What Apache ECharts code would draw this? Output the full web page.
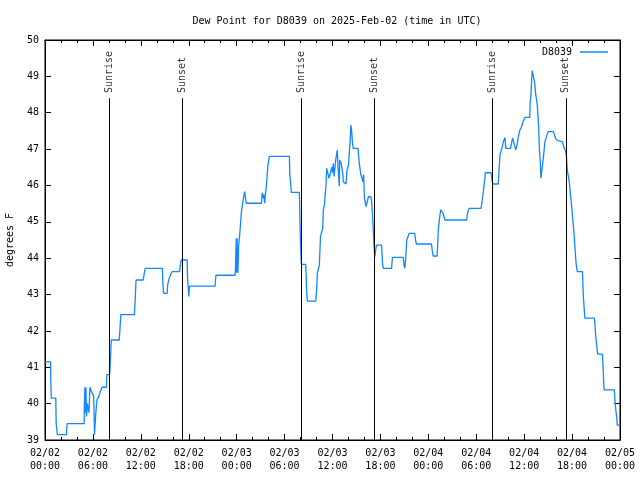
<!DOCTYPE html>
<html>
<head>
<meta charset="utf-8">
<script src="https://cdn.jsdelivr.net/npm/echarts@6/dist/echarts.min.js"></script>
<style>html,body{margin:0;padding:0;background:#fff}#c{width:640px;height:480px}</style>
</head>
<body>
<div id="c"></div>
<script>
// Hours since 2025-02-02 00:00 UTC
const hours = [
0,0.7,0.72,0.8,1.35,1.4,1.55,2.7,2.73,2.8,4.9,4.93,5.0,5.05,5.12,5.2,5.3,5.5,5.63,5.8,6.1,6.2,6.35,6.5,6.75,6.95,7.15,7.7,7.75,8.1,8.2,8.3,9.3,9.4,9.5,11.2,11.3,11.4,12.3,12.4,12.55,14.7,14.75,14.85,15.3,15.35,15.55,15.7,15.9,16.85,16.95,17.05,17.8,17.85,17.95,18.0,18.1,21.3,21.4,23.8,23.85,23.95,24.0,24.05,24.15,24.25,24.4,24.6,24.85,25.0,25.05,25.2,27.1,27.2,27.3,27.4,27.5,27.6,27.75,27.9,28.1,30.6,30.65,30.75,30.85,31.85,31.9,32.0,32.1,32.64,32.7,32.76,32.85,33.9,34.0,34.1,34.35,34.5,34.77,34.85,35.0,35.2,35.27,35.4,35.55,35.7,35.9,36.0,36.1,36.2,36.4,36.6,36.7,36.85,36.9,37.1,37.3,37.35,37.5,37.7,37.8,38.0,38.1,38.2,38.3,38.4,38.5,38.6,39.2,39.35,39.55,39.7,39.8,39.9,40.0,40.2,40.5,40.8,40.9,41.0,41.1,41.2,41.3,41.5,42.15,42.25,42.36,43.4,43.5,44.87,44.95,45.05,45.15,45.3,45.6,46.3,46.4,46.5,48.4,48.5,48.6,49.1,49.25,49.4,49.55,49.65,49.85,50.08,52.8,52.9,53.1,54.6,54.75,54.9,55.05,55.15,55.85,55.95,56.0,56.1,56.75,56.85,56.97,57.2,57.4,57.5,57.6,57.7,58.3,58.45,58.55,58.7,58.95,59.1,59.25,59.47,59.65,59.85,60.1,60.7,60.75,60.85,60.9,61.0,61.2,61.3,61.45,61.65,61.8,61.9,62.0,62.1,62.2,62.4,62.6,62.8,63.0,63.65,63.85,64.05,64.3,64.8,64.95,65.2,65.3,65.4,65.65,65.8,65.95,66.15,66.25,66.35,66.5,66.65,67.3,67.4,67.6,68.8,68.95,69.2,69.8,69.9,70.0,71.3,71.4,71.6,71.65,72
];
const dewPointF = [
41.15,41.15,40.65,40.15,40.15,39.45,39.15,39.15,39.35,39.45,39.45,40.0,40.45,39.75,40.45,39.65,40.0,39.75,40.45,40.35,40.2,39.15,39.7,40.1,40.2,40.35,40.45,40.45,40.8,40.8,41.25,41.75,41.75,42.1,42.45,42.45,42.9,43.4,43.4,43.55,43.72,43.72,43.35,43.03,43.03,43.25,43.45,43.5,43.63,43.63,43.8,43.95,43.95,43.45,43.15,42.95,43.23,43.23,43.53,43.53,43.73,44.55,43.6,44.55,43.6,44.35,44.7,45.28,45.65,45.83,45.8,45.51,45.51,45.8,45.65,45.75,45.51,45.75,46.06,46.54,46.8,46.8,46.33,46.06,45.81,45.81,45.32,44.32,43.83,43.83,43.58,43.08,42.82,42.82,43.08,43.58,43.81,44.6,44.82,45.33,45.48,46.06,46.47,46.35,46.2,46.3,46.5,46.35,46.61,46.25,46.7,46.97,46.5,45.98,46.7,46.6,46.3,46.1,46.15,46.04,46.4,46.55,46.9,47.16,47.66,47.5,47.16,47.02,47.02,46.61,46.3,46.2,46.1,46.3,45.65,45.42,45.69,45.69,45.55,45.23,44.8,44.32,44.04,44.36,44.36,43.9,43.72,43.72,44.02,44.02,43.81,43.72,43.95,44.5,44.68,44.68,44.5,44.39,44.39,44.2,44.06,44.06,44.78,45.1,45.33,45.37,45.23,45.05,45.05,45.23,45.37,45.37,45.6,45.85,46.15,46.35,46.35,46.2,46.1,46.04,46.04,46.42,46.84,47.02,47.2,47.25,47.32,47.02,47.02,47.2,47.3,47.25,46.98,47.1,47.32,47.53,47.6,47.75,47.87,47.87,48.26,48.5,48.75,49.16,49.16,48.85,48.5,48.2,47.66,47.02,46.7,46.2,46.4,46.75,47.2,47.35,47.48,47.48,47.35,47.25,47.2,47.2,47.07,46.93,46.79,46.42,46.1,45.74,45.42,44.91,44.68,44.32,43.86,43.63,43.63,42.99,42.35,42.35,41.89,41.36,41.36,40.9,40.38,40.38,39.97,39.6,39.41,39.41
];
const sunriseHours = [8.1, 32.05, 56.0];
const sunsetHours = [17.19, 41.2, 65.22];
const xTickLabels = ['02/02\n00:00','02/02\n06:00','02/02\n12:00','02/02\n18:00','02/03\n00:00','02/03\n06:00','02/03\n12:00','02/03\n18:00','02/04\n00:00','02/04\n06:00','02/04\n12:00','02/04\n18:00','02/05\n00:00'];
const seriesName = 'D8039';
const titleText = 'Dew Point for D8039 on 2025-Feb-02 (time in UTC)';
const yName = 'degrees F';

const FONT = 'DejaVu Sans Mono';
const yMin = 39, yMax = 50;
const sunLineTop = 48.4, sunLabelAnchor = 48.54;

const lineData = hours.map((h, i) => [h, dewPointF[i]]);
const sunEvents = [];
sunriseHours.forEach(h => sunEvents.push([h, 'Sunrise']));
sunsetHours.forEach(h => sunEvents.push([h, 'Sunset']));
sunEvents.sort((a, b) => a[0] - b[0]);

const markLines = sunEvents.map(e => [{coord: [e[0], yMin]}, {coord: [e[0], sunLineTop]}]);
const labelPts = sunEvents.map(e => [e[0], sunLabelAnchor, e[1]]);

const axisCommonX = {
  type: 'value', min: 0, max: 72, interval: 6,
  axisLine: {show: true, onZero: false, lineStyle: {color: '#000', width: 1}},
  axisTick: {show: true, inside: true, length: 6, lineStyle: {color: '#000'}},
  minorTick: {show: true, splitNumber: 3, length: 3, lineStyle: {color: '#000'}},
  splitLine: {show: false}
};
const axisCommonY = {
  type: 'value', min: yMin, max: yMax, interval: 1,
  axisLine: {show: true, onZero: false, lineStyle: {color: '#000', width: 1}},
  axisTick: {show: true, inside: true, length: 6, lineStyle: {color: '#000'}},
  splitLine: {show: false}
};

const chart = echarts.init(document.getElementById('c'), null, {renderer: 'canvas'});
chart.setOption({
  animation: false,
  backgroundColor: '#fff',
  title: {
    text: titleText, left: 332, top: 11, textAlign: 'center',
    textStyle: {fontFamily: FONT, fontSize: 10, fontWeight: 'normal', color: '#000'}
  },
  legend: {
    data: [{name: seriesName, icon: 'rect'}],
    right: 27, top: 42, align: 'right',
    itemWidth: 28, itemHeight: 1.5, itemGap: 5,
    textStyle: {fontFamily: FONT, fontSize: 10, color: '#000', padding: [0, 3, 0, 0]}
  },
  grid: {left: 45, right: 20, top: 40, bottom: 40, show: true, borderColor: '#000', borderWidth: 1,
         containLabel: false, outerBoundsMode: 'none'},
  xAxis: [
    Object.assign({}, axisCommonX, {
      position: 'bottom',
      axisLabel: {
        show: true, margin: 7, color: '#000', fontFamily: FONT, fontSize: 10, lineHeight: 13,
        formatter: v => xTickLabels[Math.round(v / 6)] || ''
      }
    }),
    Object.assign({}, axisCommonX, {position: 'top', axisLabel: {show: false}})
  ],
  yAxis: [
    Object.assign({}, axisCommonY, {
      position: 'left',
      name: yName, nameLocation: 'middle', nameGap: 30, nameRotate: 90,
      nameTextStyle: {fontFamily: FONT, fontSize: 10, color: '#000'},
      axisLabel: {show: true, margin: 6, color: '#000', fontFamily: FONT, fontSize: 10}
    }),
    Object.assign({}, axisCommonY, {position: 'right', axisLabel: {show: false}})
  ],
  series: [
    {
      name: seriesName, type: 'line', data: lineData,
      xAxisIndex: 0, yAxisIndex: 0,
      showSymbol: false, symbol: 'none',
      lineStyle: {color: '#1287ff', width: 1.3},
      itemStyle: {color: '#1287ff'},
      z: 3
    },
    {
      name: 'sun', type: 'line', data: [], xAxisIndex: 0, yAxisIndex: 0,
      markLine: {
        silent: true, symbol: ['none', 'none'], animation: false,
        label: {show: false},
        lineStyle: {color: '#000', width: 1, type: 'solid'},
        data: markLines
      },
      z: 2
    },
    {
      name: 'sunlabels', type: 'scatter', data: labelPts,
      xAxisIndex: 0, yAxisIndex: 0,
      symbolSize: 0, silent: true,
      label: {
        show: true, position: 'inside', rotate: 90,
        align: 'left', verticalAlign: 'middle',
        fontFamily: FONT, fontSize: 10, color: '#000',
        formatter: p => p.value[2]
      }
    }
  ]
});
</script>
</body>
</html>
